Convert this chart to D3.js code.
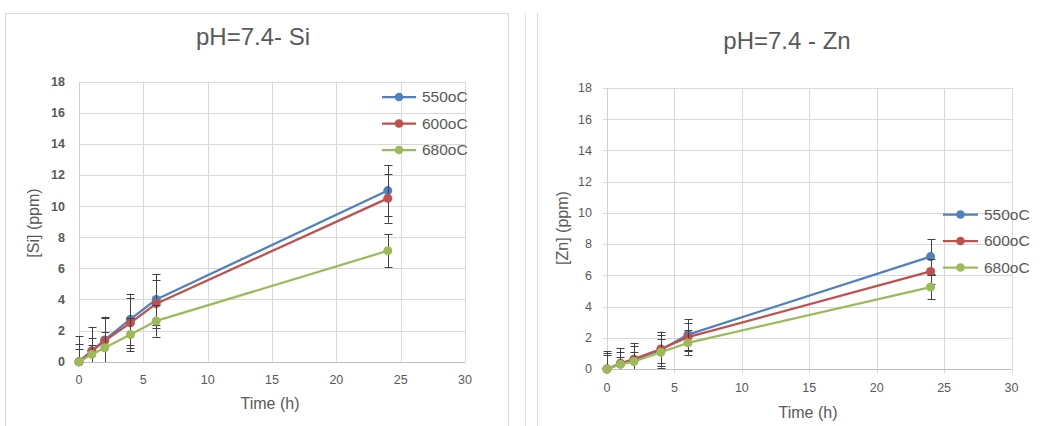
<!DOCTYPE html>
<html>
<head>
<meta charset="utf-8">
<script src="https://cdn.jsdelivr.net/npm/d3@7"></script>
<style>
html,body{margin:0;padding:0;background:#fff;}
svg{display:block;font-family:"Liberation Sans",Arial,sans-serif;}
</style>
</head>
<body>
<svg id="chart" width="1040" height="426"></svg>
<script>
// ---- data ----
const times = [0, 1, 2, 4, 6, 24];
const seriesNames = ["550oC", "600oC", "680oC"];
const xTicks = [0, 5, 10, 15, 20, 25, 30];
const yTicks = [0, 2, 4, 6, 8, 10, 12, 14, 16, 18];

const si550 = [0, 0.70, 1.40, 2.73, 4.00, 11.00];
const si600 = [0, 0.68, 1.34, 2.50, 3.73, 10.50];
const si680 = [0, 0.47, 0.90, 1.75, 2.62, 7.13];
const siErr550 = [1.64, 1.54, 1.50, 1.64, 1.65, 1.63];
const siErr600 = [1.13, 0.86, 1.50, 1.60, 1.54, 1.56];
const siErr680 = [0.80, 0.60, 1.02, 1.07, 1.00, 1.07];

const zn550 = [0, 0.33, 0.59, 1.24, 2.20, 7.20];
const zn600 = [0, 0.37, 0.63, 1.28, 2.04, 6.25];
const zn680 = [0, 0.30, 0.48, 1.07, 1.67, 5.25];
const znErr550 = [1.13, 1.02, 1.08, 1.15, 1.00, 1.12];
const znErr600 = [1.00, 0.70, 0.83, 0.90, 0.90, 0.80];
const znErr680 = [0.90, 0.50, 0.60, 0.87, 0.80, 0.77];

const colors = ["#4F81BD", "#C0504D", "#9BBB59"];

const svg = d3.select("#chart");

// chart frames
svg.append("rect").attr("x", 5.5).attr("y", 13.5).attr("width", 503).attr("height", 440)
  .attr("fill", "none").attr("stroke", "#d9d9d9");
svg.append("line").attr("x1", 525.5).attr("x2", 525.5).attr("y1", 13).attr("y2", 426).attr("stroke", "#e3e3e3");
svg.append("line").attr("x1", 537.5).attr("x2", 537.5).attr("y1", 13).attr("y2", 426).attr("stroke", "#d9d9d9");

function drawChart(cfg) {
  const x = d3.scaleLinear().domain([0, 30]).range([cfg.x0, cfg.x1]);
  const y = d3.scaleLinear().domain([0, 18]).range([cfg.y0, cfg.y1]);
  const g = svg.append("g");
  const clipId = "clip" + cfg.id;
  svg.append("defs").append("clipPath").attr("id", clipId)
    .append("rect").attr("x", cfg.x0 - 10).attr("y", cfg.y1).attr("width", cfg.x1 - cfg.x0 + 20).attr("height", cfg.y0 - cfg.y1);

  // title
  g.append("text").attr("x", cfg.titleX).attr("y", cfg.titleY).attr("text-anchor", "middle")
    .attr("font-size", 24).attr("fill", "#595959").text(cfg.title);

  // grid
  g.append("g").selectAll("line").data(yTicks.filter(d => d > 0)).join("line")
    .attr("x1", cfg.x0 - cfg.tick).attr("x2", cfg.x1)
    .attr("y1", d => Math.round(y(d)) + 0.5).attr("y2", d => Math.round(y(d)) + 0.5)
    .attr("stroke", "#d9d9d9");
  g.append("g").selectAll("line").data(xTicks.filter(d => d > 0)).join("line")
    .attr("x1", d => Math.round(x(d)) + 0.5).attr("x2", d => Math.round(x(d)) + 0.5)
    .attr("y1", cfg.y1).attr("y2", cfg.y0 + cfg.tick)
    .attr("stroke", "#d9d9d9");
  // axes lines
  g.append("line").attr("x1", Math.round(x(0)) + 0.5).attr("x2", Math.round(x(0)) + 0.5)
    .attr("y1", cfg.y1).attr("y2", cfg.y0).attr("stroke", "#d0d0d0");
  g.append("line").attr("x1", cfg.x0 - cfg.tick).attr("x2", cfg.x1)
    .attr("y1", Math.round(y(0)) + 0.5).attr("y2", Math.round(y(0)) + 0.5).attr("stroke", "#bfbfbf");

  // tick labels
  g.append("g").selectAll("text").data(yTicks).join("text")
    .attr("x", cfg.yLabX).attr("y", d => y(d)).attr("dy", "0.35em")
    .attr("text-anchor", "end").attr("font-size", 12.5).attr("fill", "#595959")
    .attr("font-weight", cfg.boldTicks ? "bold" : "normal")
    .text(d => d);
  g.append("g").selectAll("text").data(xTicks).join("text")
    .attr("x", d => x(d)).attr("y", cfg.xLabY).attr("dy", "0.35em")
    .attr("text-anchor", "middle").attr("font-size", 12.5).attr("fill", "#595959")
    .text(d => d);

  // axis titles
  g.append("text").attr("x", cfg.xTitleX).attr("y", cfg.xTitleY).attr("text-anchor", "middle")
    .attr("dy", "0.35em").attr("font-size", 16).attr("fill", "#595959").text("Time (h)");
  g.append("text").attr("transform", `translate(${cfg.yTitleX},${cfg.yTitleY}) rotate(-90)`)
    .attr("text-anchor", "middle").attr("dy", "0.35em")
    .attr("font-size", 16).attr("fill", "#595959").text(cfg.yTitle);

  const line = d3.line().x(d => x(d.t)).y(d => y(d.v)).curve(d3.curveLinear);

  cfg.series.forEach((s, i) => {
    const pts = times.map((t, k) => ({t, v: s.values[k], e: s.errors[k]}));
    const sg = g.append("g");
    // error bars
    const eb = sg.append("g").attr("clip-path", `url(#${clipId})`).attr("stroke", "#404040").attr("stroke-width", 1);
    pts.forEach(p => {
      const xp = Math.round(x(p.t)) + 0.5;
      const top = y(p.v + p.e), bot = y(p.v - p.e);
      eb.append("line").attr("x1", xp).attr("x2", xp).attr("y1", top).attr("y2", bot);
      eb.append("line").attr("x1", xp - 4).attr("x2", xp + 4).attr("y1", Math.round(top) + 0.5).attr("y2", Math.round(top) + 0.5);
      eb.append("line").attr("x1", xp - 4).attr("x2", xp + 4).attr("y1", Math.round(bot) + 0.5).attr("y2", Math.round(bot) + 0.5);
    });
    sg.append("path").datum(pts).attr("d", line).attr("fill", "none")
      .attr("stroke", colors[i]).attr("stroke-width", 2.25).attr("stroke-linejoin", "round");
    sg.selectAll("circle").data(pts).join("circle")
      .attr("cx", d => x(d.t)).attr("cy", d => y(d.v)).attr("r", 4.5).attr("fill", colors[i]);
  });

  // legend
  const lg = g.append("g");
  seriesNames.forEach((name, i) => {
    const ly = cfg.legY[i];
    lg.append("line").attr("x1", cfg.legX0).attr("x2", cfg.legX1).attr("y1", ly).attr("y2", ly)
      .attr("stroke", colors[i]).attr("stroke-width", 2.25);
    lg.append("circle").attr("cx", (cfg.legX0 + cfg.legX1) / 2).attr("cy", ly).attr("r", 4.3).attr("fill", colors[i]);
    lg.append("text").attr("x", cfg.legX1 + 6).attr("y", ly).attr("dy", "0.35em")
      .attr("font-size", 15.5).attr("fill", "#595959").text(name);
  });
}

drawChart({
  id: "si", title: "pH=7.4- Si", titleX: 253, titleY: 45,
  x0: 79, x1: 465, y0: 361.7, y1: 81.7, tick: 0,
  yLabX: 65, xLabY: 380, boldTicks: true,
  xTitleX: 270, xTitleY: 403, yTitleX: 33, yTitleY: 223, yTitle: "[Si] (ppm)",
  legX0: 382, legX1: 416, legY: [97, 123.5, 150],
  series: [
    {values: si550, errors: siErr550},
    {values: si600, errors: siErr600},
    {values: si680, errors: siErr680}
  ]
});

drawChart({
  id: "zn", title: "pH=7.4 - Zn", titleX: 787, titleY: 49,
  x0: 607, x1: 1011.5, y0: 369, y1: 88, tick: 4,
  yLabX: 592, xLabY: 388, boldTicks: false,
  xTitleX: 808, xTitleY: 412, yTitleX: 562, yTitleY: 228, yTitle: "[Zn] (ppm)",
  legX0: 943, legX1: 978, legY: [214.5, 241, 267.5],
  series: [
    {values: zn550, errors: znErr550},
    {values: zn600, errors: znErr600},
    {values: zn680, errors: znErr680}
  ]
});
</script>
</body>
</html>
